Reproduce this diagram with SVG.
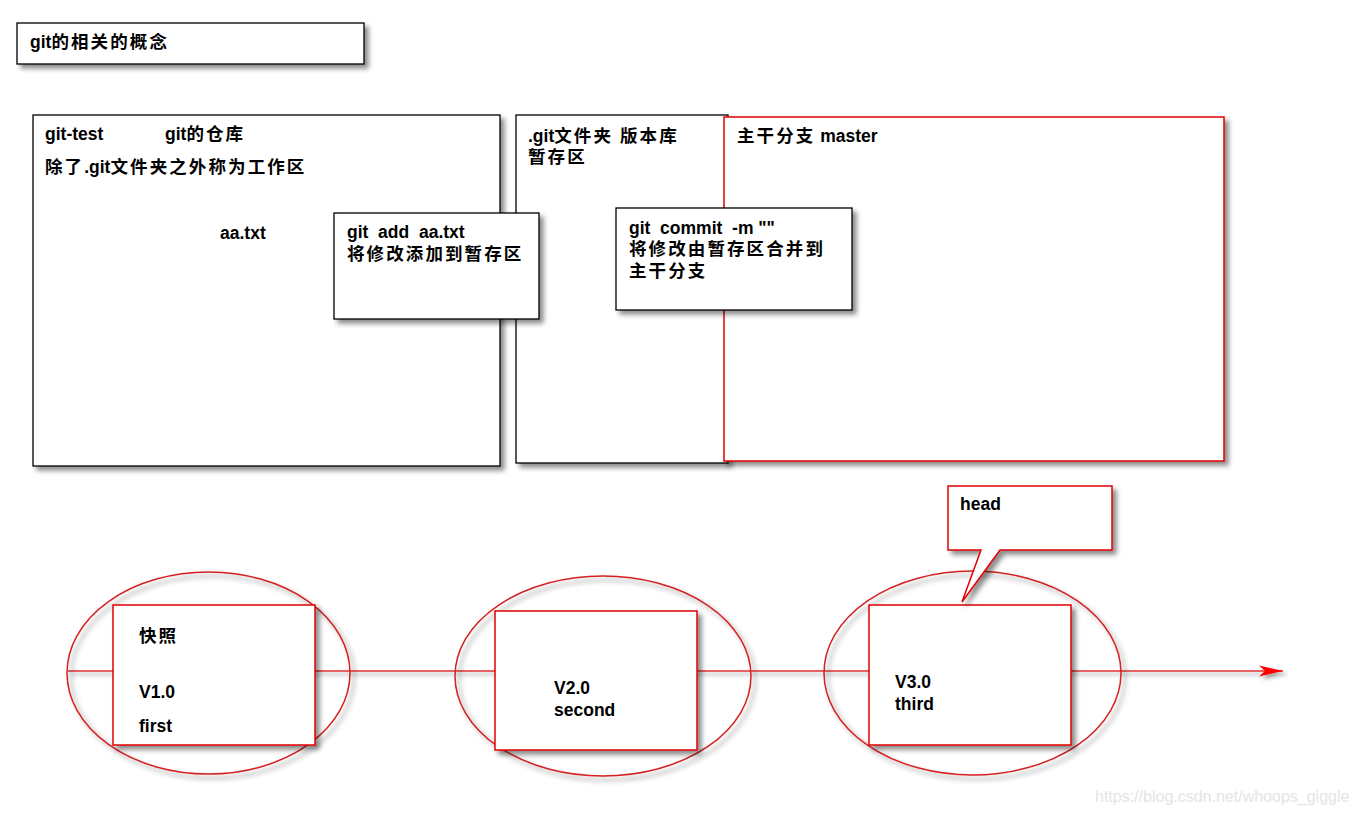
<svg xmlns="http://www.w3.org/2000/svg" width="1357" height="814" viewBox="0 0 1357 814" xml:space="preserve">
<defs>
<filter id="sh" x="-10%" y="-10%" width="130%" height="130%">
<feDropShadow dx="4" dy="4" stdDeviation="2.5" flood-color="#000" flood-opacity="0.45"/>
</filter>
<filter id="shl" filterUnits="userSpaceOnUse" x="0" y="650" width="1357" height="50">
<feDropShadow dx="3" dy="3" stdDeviation="2" flood-color="#000" flood-opacity="0.4"/>
</filter>
<marker id="arr" markerWidth="26" markerHeight="14" refX="24" refY="7" orient="auto" markerUnits="userSpaceOnUse">
<path d="M0,1.5 L24,7 L0,12.5 L6,7 Z" fill="#ff0000"/>
</marker>
<style>
text{font-family:"Liberation Sans","Noto Sans CJK SC",sans-serif;font-size:17.5px;font-weight:bold;fill:#000;white-space:pre}
.c{letter-spacing:2.1px}
.bk{fill:#fff;stroke:#000;stroke-width:1.3}
.rd{fill:#fff;stroke:#e00000;stroke-width:1.5}
.el{fill:none;stroke:#d42020;stroke-width:1.5}
.wm{font-family:"Liberation Sans",sans-serif;font-weight:normal;font-size:16px;fill:#e4e4e4}
</style>
</defs>
<rect width="1357" height="814" fill="#fff"/>

<g id="title">
<rect class="bk" x="17" y="23" width="347" height="41" filter="url(#sh)"/>
<text x="30" y="48">git<tspan class="c">的相关的概念</tspan></text>
</g>

<g id="workarea">
<rect class="bk" x="33" y="115" width="467" height="351" filter="url(#sh)"/>
<text x="45" y="140">git-test</text>
<text x="165" y="140">git<tspan class="c">的仓库</tspan></text>
<text x="45" y="173"><tspan class="c">除了</tspan>.git<tspan class="c">文件夹之外称为工作区</tspan></text>
<text x="220" y="239">aa.txt</text>
</g>

<g id="repo">
<rect class="bk" x="516" y="115" width="212" height="348" filter="url(#sh)"/>
<text x="528" y="142">.git<tspan class="c">文件夹 版本库</tspan></text>
<text x="528" y="163" class="c">暂存区</text>
</g>

<g id="master">
<rect class="rd" x="724" y="117" width="500" height="344" filter="url(#sh)"/>
<text x="737" y="142"><tspan class="c">主干分支</tspan> master</text>
</g>

<g id="gitadd">
<rect class="bk" x="334" y="213" width="205" height="106" filter="url(#sh)"/>
<text x="347" y="238">git  add  aa.txt</text>
<text x="347" y="260" class="c">将修改添加到暂存区</text>
</g>

<g id="gitcommit">
<rect class="bk" x="616" y="208" width="236" height="102" filter="url(#sh)"/>
<text x="629" y="234">git  commit  -m ""</text>
<text x="629" y="255" class="c">将修改由暂存区合并到</text>
<text x="629" y="277" class="c">主干分支</text>
</g>

<g id="connectors">
<line x1="68" y1="671" x2="1283" y2="671" stroke="#e03030" stroke-width="1.5" marker-end="url(#arr)" filter="url(#shl)"/>
</g>

<g id="v1">
<ellipse class="el" cx="208.5" cy="673" rx="141.5" ry="101" filter="url(#sh)"/>
<rect class="rd" x="113" y="605" width="202" height="140" filter="url(#sh)"/>
<text x="139" y="642" class="c">快照</text>
<text x="139" y="698">V1.0</text>
<text x="139" y="732">first</text>
</g>

<g id="v2">
<ellipse class="el" cx="603" cy="676" rx="148" ry="100" filter="url(#sh)"/>
<rect class="rd" x="495" y="611" width="202" height="139" filter="url(#sh)"/>
<text x="554" y="694">V2.0</text>
<text x="554" y="716">second</text>
</g>

<g id="v3">
<ellipse class="el" cx="972.5" cy="673" rx="148.5" ry="102" filter="url(#sh)"/>
<rect class="rd" x="869" y="605" width="202" height="140" filter="url(#sh)"/>
<text x="895" y="688">V3.0</text>
<text x="895" y="710">third</text>
</g>

<g id="head">
<path class="rd" d="M948,486 H1112 V550 H1000 L962,602 L981,550 H948 Z" filter="url(#sh)"/>
<text x="960" y="510">head</text>
</g>

<text class="wm" x="1095" y="802">https://blog.csdn.net/whoops_giggle</text>
</svg>
